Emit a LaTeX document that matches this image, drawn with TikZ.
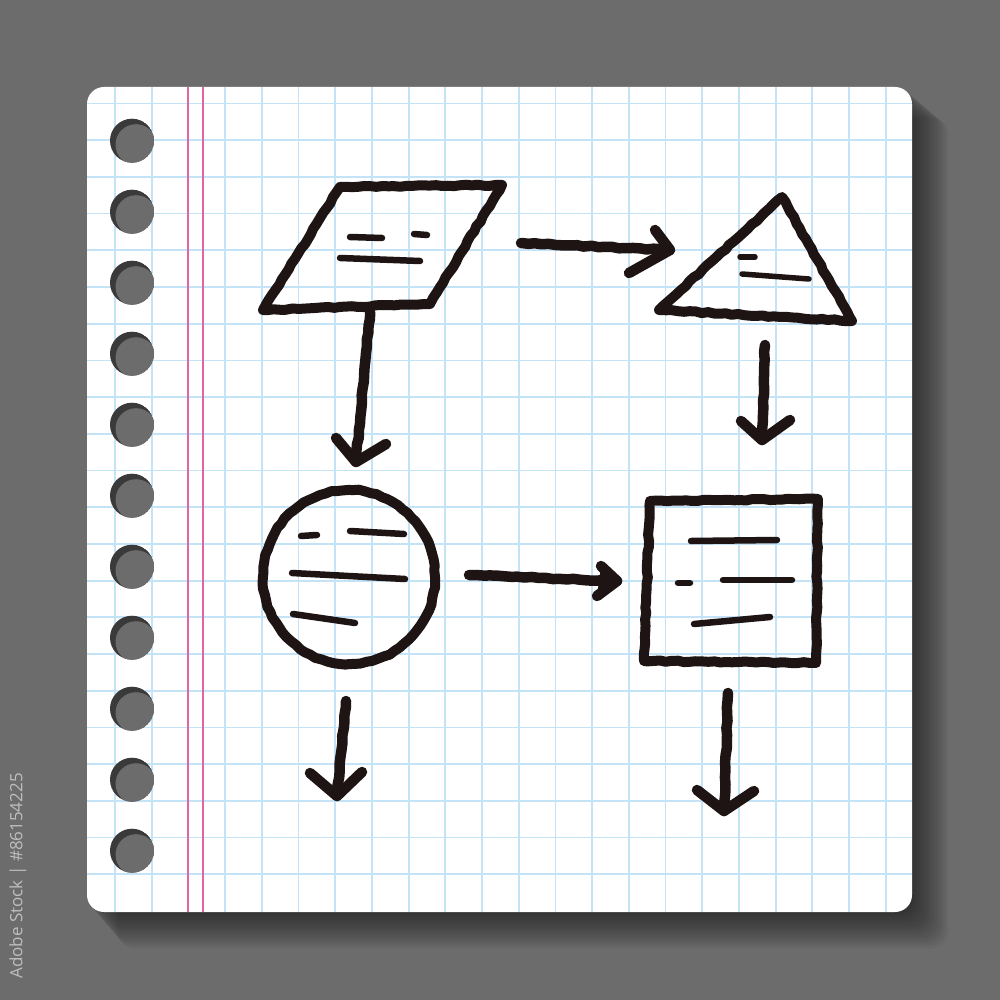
\documentclass[tikz,border=0pt]{standalone}
\usepackage{fontspec}
\newfontfamily\wmfont{Open Sans}
\usetikzlibrary{decorations.pathmorphing}
\definecolor{bgc}{RGB}{108,108,108}
\definecolor{gridc}{RGB}{196,227,247}
\definecolor{pinkc}{RGB}{226,100,164}
\definecolor{inkc}{RGB}{30,20,20}
\definecolor{holedark}{RGB}{58,58,58}
\definecolor{holelight}{RGB}{108,108,108}
\definecolor{wmc}{RGB}{190,190,190}
\pgfmathsetseed{7}
\tikzset{
  ink/.style={draw=inkc, line width=10pt, line cap=round, line join=round,
    decorate,
    decoration={random steps, segment length=6pt, amplitude=0.7pt}},
  txtline/.style={draw=inkc, line width=6.5pt, line cap=round},
  arrowstem/.style={draw=inkc, line width=10.5pt, line cap=round, line join=round,
    decorate, decoration={random steps, segment length=7pt, amplitude=0.7pt}},
  arrowhead/.style={draw=inkc, line width=10.5pt, line cap=round, line join=round},
}
\begin{document}
\begin{tikzpicture}[x=1pt,y=-1pt]
\useasboundingbox (0,0) rectangle (1000,1000);
\fill[bgc] (0,0) rectangle (1000,1000);
% watermark id
\node[text=wmc, font=\wmfont\fontsize{17}{17}\selectfont, rotate=90, anchor=east, inner sep=0pt] (wm) at (18,773) {Adobe Stock | \#86154225};
% paper shadow
\foreach \i in {1,...,14}{
  \fill[black, opacity=0.045, rounded corners=17pt] (87+2.2*\i,87+2.2*\i) rectangle (912+2.6*\i,912+2.6*\i);
}
% paper
\fill[white, rounded corners=17pt] (87,87) rectangle (912,912);
\begin{scope}
  \clip[rounded corners=17pt] (87,87) rectangle (912,912);
  \foreach \k in {0,...,21}{
    \draw[gridc, line width=1.8pt] (115+36.7*\k,87) -- (115+36.7*\k,912);
    \draw[gridc, line width=1.8pt] (87,103.5+36.7*\k) -- (912,103.5+36.7*\k);
  }
  \draw[pinkc, line width=1.8pt] (188.3,87) -- (188.3,912);
  \draw[pinkc, line width=1.8pt] (203.3,87) -- (203.3,912);
\end{scope}
% holes
\foreach \k in {0,...,10}{
  \begin{scope}
    \clip (132,140.7+71*\k) circle[radius=22pt];
    \fill[holedark] (132,140.7+71*\k) circle[radius=22pt];
    \fill[holelight] (136,144.7+71*\k) circle[radius=20.5pt];
  \end{scope}
}
% --- parallelogram
\coordinate (paraA) at (340,187);
\coordinate (paraB) at (502,185);
\coordinate (paraC) at (430,304);
\coordinate (paraD) at (263,310);
\draw[ink] (paraA) -- (paraB) -- (paraC) -- (paraD) -- cycle;
\draw[txtline] (350,237) -- (382,238);
\draw[txtline] (414,234) -- (427,235);
\draw[txtline] (340,258) -- (420,261);
% --- triangle
\coordinate (triA) at (782,197);
\coordinate (triB) at (852,321);
\coordinate (triC) at (659,310);
\draw[ink] (triA) -- (triB) -- (triC) -- cycle;
\draw[txtline, line width=5.5pt] (740,257) -- (755,257);
\draw[txtline, line width=5.5pt] (742,274) -- (809,279);
% --- circle
\coordinate (circ) at (349,577);
\draw[ink] (circ) ellipse[x radius=86pt, y radius=87pt];
\draw[txtline] (301,536) -- (317,535);
\draw[txtline] (350,531) -- (404,534);
\draw[txtline] (292,573) -- (405,579);
\draw[txtline] (293,614) -- (355,623);
% --- square
\coordinate (sqA) at (650,501);
\coordinate (sqB) at (818,499);
\coordinate (sqC) at (816,663);
\coordinate (sqD) at (644,661);
\draw[ink] (sqA) -- (sqB) -- (sqC) -- (sqD) -- cycle;
\draw[txtline] (691,541) -- (777,540);
\draw[txtline] (678,583) -- (690,583);
\draw[txtline] (723,580) -- (792,580);
\draw[txtline] (694,624) -- (770,617);
% --- arrows
% parallelogram -> circle
\coordinate (a1s) at (370,312); \coordinate (a1t) at (356,462);
\coordinate (a1l) at (336,438); \coordinate (a1r) at (386,444);
\draw[arrowstem] (a1s) -- (a1t);
\draw[arrowhead] (a1l) -- (a1t) -- (a1r);
% parallelogram -> triangle
\coordinate (a2s) at (521,243); \coordinate (a2t) at (670,250);
\coordinate (a2u) at (655,230); \coordinate (a2d) at (629,273);
\draw[arrowstem] (a2s) -- (a2t);
\draw[arrowhead] (a2u) -- (a2t) -- (a2d);
% triangle -> square
\coordinate (a3s) at (765,345); \coordinate (a3t) at (762,440);
\coordinate (a3l) at (741,421); \coordinate (a3r) at (790,420);
\draw[arrowstem] (a3s) -- (a3t);
\draw[arrowhead] (a3l) -- (a3t) -- (a3r);
% circle -> square
\coordinate (a4s) at (469,575); \coordinate (a4t) at (617,581);
\coordinate (a4u) at (601,566); \coordinate (a4d) at (597,596);
\draw[arrowstem] (a4s) -- (a4t);
\fill[inkc] (a4u) -- (a4t) -- (a4d) -- cycle;
\draw[arrowhead] (a4u) -- (a4t) -- (a4d);
% circle -> down
\coordinate (a5s) at (346,701); \coordinate (a5t) at (337,796);
\coordinate (a5l) at (310,773); \coordinate (a5r) at (362,772);
\draw[arrowstem] (a5s) -- (a5t);
\draw[arrowhead] (a5l) -- (a5t) -- (a5r);
% square -> down
\coordinate (a6s) at (728,693); \coordinate (a6t) at (724,811);
\coordinate (a6l) at (697,790); \coordinate (a6r) at (754,791);
\draw[arrowstem] (a6s) -- (a6t);
\draw[arrowhead] (a6l) -- (a6t) -- (a6r);
\end{tikzpicture}
\end{document}
